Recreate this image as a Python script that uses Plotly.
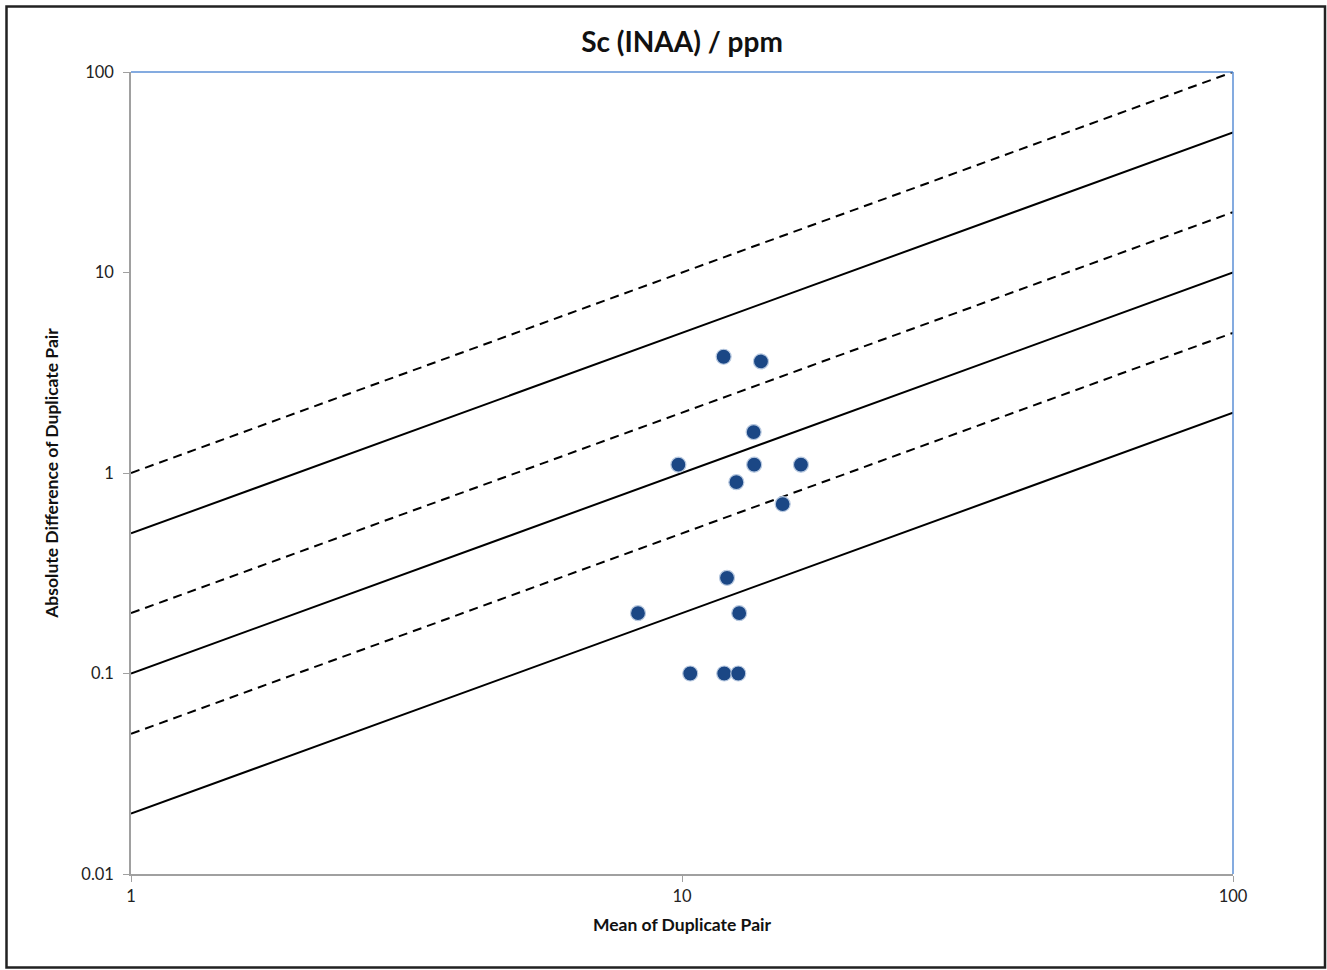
import plotly.graph_objects as go

# Data
mean_pair = [11.90, 13.91, 13.49, 9.85, 13.52, 16.44, 12.55, 15.23, 12.07, 8.32, 12.70, 10.35, 11.93, 12.65]
abs_diff = [3.8, 3.6, 1.6, 1.1, 1.1, 1.1, 0.9, 0.7, 0.3, 0.2, 0.2, 0.1, 0.1, 0.1]

line_x = [1, 100]
solid_factors = [0.5, 0.1, 0.02]
dashed_factors = [1.0, 0.2, 0.05]

x_tickvals = [1, 10, 100]
x_ticktext = ["1", "10", "100"]
y_tickvals = [0.01, 0.1, 1, 10, 100]
y_ticktext = ["0.01", "0.1", "1", "10", "100"]

FONT = "Lato"
fig = go.Figure()

for f in dashed_factors:
    fig.add_trace(go.Scatter(x=line_x, y=[v * f for v in line_x], mode="lines",
                             line=dict(color="black", width=2, dash="9px,6px"),
                             showlegend=False, hoverinfo="skip"))
for f in solid_factors:
    fig.add_trace(go.Scatter(x=line_x, y=[v * f for v in line_x], mode="lines",
                             line=dict(color="black", width=2),
                             showlegend=False, hoverinfo="skip"))

fig.add_trace(go.Scatter(x=mean_pair, y=abs_diff, mode="markers",
                         marker=dict(size=15, color="#1B4785",
                                     line=dict(color="#B8C9E0", width=1.2)),
                         showlegend=False))

L, R, T, B = 131, 94, 72, 96
W, H = 1327, 970
pw, ph = W - L - R, H - T - B

def px(xp):
    return (xp - L) / pw

def py(yp):
    return (H - B - yp) / ph

shapes = [
    # blue top and right plot borders
    dict(type="line", xref="paper", yref="paper", x0=0, x1=1, y0=1, y1=1,
         line=dict(color="#5B8FD6", width=1.5)),
    dict(type="line", xref="paper", yref="paper", x0=1, x1=1, y0=0, y1=1,
         line=dict(color="#5B8FD6", width=1.5)),
    # outer frame
    dict(type="rect", xref="paper", yref="paper", x0=px(6.5), x1=px(1325), y0=py(967.5), y1=py(6.5),
         line=dict(color="#222222", width=2.5), layer="below"),
]

fig.update_layout(
    width=W, height=H,
    margin=dict(l=L, r=R, t=T, b=B),
    paper_bgcolor="white", plot_bgcolor="white",
    font=dict(family=FONT, color="#222222"),
    title=dict(text="<b>Sc (INAA) / ppm</b>", x=0.5, xanchor="center", xref="paper",
               y=1 - 42 / H, yanchor="middle", font=dict(size=28, family=FONT, color="#111111")),
    shapes=shapes,
    xaxis=dict(type="log", range=[0, 2], tickvals=x_tickvals, ticktext=x_ticktext,
               showgrid=False, zeroline=False, showline=True, linecolor="#A0A0A0", linewidth=1.5,
               ticks="outside", ticklen=6, tickcolor="#A0A0A0", tickfont=dict(size=16.5, color="#222222"),
               title=dict(text="<b>Mean of Duplicate Pair</b>", font=dict(size=17.5, color="#111111"), standoff=14)),
    yaxis=dict(type="log", range=[-2, 2], tickvals=y_tickvals, ticktext=y_ticktext,
               showgrid=False, zeroline=False, showline=True, linecolor="#A0A0A0", linewidth=1.5,
               ticks="outside", ticklen=6, tickcolor="#A0A0A0", tickfont=dict(size=16.5, color="#222222"),
               ticklabelstandoff=6,
               title=dict(text="<b>Absolute Difference of Duplicate Pair</b>", font=dict(size=17.5, color="#111111"), standoff=18)),
)

fig.write_html("out.html", config={"displayModeBar": False},
               post_script="document.body.style.margin='0';document.body.style.overflow='hidden';")
